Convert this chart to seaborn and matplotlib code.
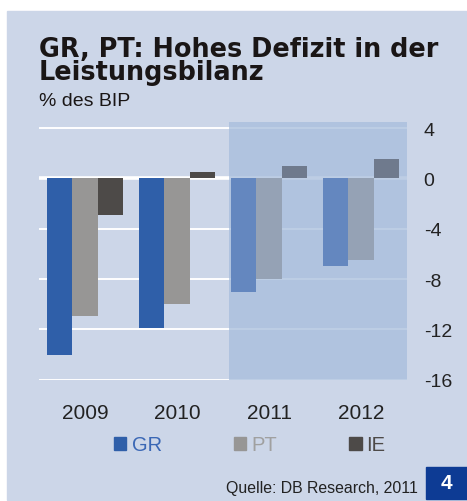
import pandas as pd
import numpy as np
import matplotlib
matplotlib.use("Agg")
import matplotlib.pyplot as plt
import seaborn as sns
from matplotlib.patches import Rectangle

# data (% of GDP)
years = ["2009", "2010", "2011", "2012"]
countries = ["GR", "PT", "IE"]
gr = [-14.0, -11.9, -9.0, -7.0]
pt = [-10.9, -10.0, -8.0, -6.5]
ie = [-2.9, 0.5, 1.0, 1.5]
yticks = [4, 0, -4, -8, -12, -16]

df = pd.DataFrame({
    "year": years * 3,
    "country": ["GR"] * 4 + ["PT"] * 4 + ["IE"] * 4,
    "value": gr + pt + ie,
})

bg = "#ccd6e8"
colors = {"GR": "#2f5fa9", "PT": "#979695", "IE": "#4d4a48"}
fc_colors = {"GR": "#6487bf", "PT": "#95a2b5", "IE": "#6f7a8d"}
text_colors = {"GR": "#3a67b5", "PT": "#a0a0a0", "IE": "#4d4a48"}

sns.set_theme(style="white")
plt.rcParams["font.family"] = ["Liberation Sans", "DejaVu Sans"]

fig = plt.figure(figsize=(4.67, 5.02), dpi=100)
fig.patch.set_facecolor("white")
# panel background
fig.patches.append(Rectangle((7 / 467, 1 / 502), 460 / 467, 489 / 502,
                             transform=fig.transFigure, color=bg, zorder=-5))

ax = fig.add_axes([39 / 467, 1 - 380.7 / 502, 368 / 467, 257.7 / 502])
ax.set_facecolor("none")
ax.set_zorder(2)

sns.barplot(data=df, x="year", y="value", hue="country", hue_order=countries,
            palette=colors, saturation=1, width=0.83, gap=0, ax=ax, zorder=3,
            edgecolor="none", legend=False)

# forecast years lighter
for cont, c in zip(ax.containers, countries):
    for i, bar in enumerate(cont):
        if i >= 2:
            bar.set_facecolor(fc_colors[c])

ax.set_xlim(-0.5, 3.5)
ax.set_ylim(-16, 4.48)
for t in yticks:
    ax.axhline(t, color="white", lw=1.4 if t != 0 else 2.6, zorder=1)
ax.axvspan(1.565, 3.5, ymin=0, ymax=1, color="#a7bddc", alpha=0.75, lw=0, zorder=2)

ax.set_yticks(yticks)
ax.set_yticklabels([str(t) for t in yticks])
ax.yaxis.tick_right()
ax.tick_params(axis="y", length=0, pad=12, labelsize=14, labelcolor="#222222")
for lbl in ax.get_yticklabels():
    lbl.set_horizontalalignment("left")
ax.tick_params(axis="x", length=0, pad=17, labelsize=15, labelcolor="#222222")
ax.set_xlabel("")
ax.set_ylabel("")
for s in ax.spines.values():
    s.set_visible(False)

# legend with squares and coloured text
handles = [Rectangle((0, 0), 1, 1, color=colors[c]) for c in countries]
leg = fig.legend(handles, countries, loc="center", bbox_to_anchor=(250 / 467, 1 - 446 / 502),
                 ncol=3, frameon=False, fontsize=14.5, handlelength=0.6, handleheight=0.6,
                 handletextpad=0.25, columnspacing=3.6, borderpad=0)
for txt, c in zip(leg.get_texts(), countries):
    txt.set_color(text_colors[c])

# titles (va=baseline anchors the last line)
fig.text(39 / 467, 1 - 80.5 / 502, "GR, PT: Hohes Defizit in der\nLeistungsbilanz",
         fontsize=18.4, fontweight="bold", family="DejaVu Sans", color="#1a1616",
         va="baseline", linespacing=0.89)
fig.text(39 / 467, 1 - 106 / 502, "% des BIP", fontsize=14, color="#1a1616", va="baseline")

# source and page box
fig.text(418 / 467, 1 - 492.7 / 502, "Quelle: DB Research, 2011", fontsize=11.4,
         color="#222222", ha="right", va="baseline")
fig.patches.append(Rectangle((426 / 467, 1 - 500 / 502), 41 / 467, 32 / 502,
                             transform=fig.transFigure, color="#0d3b94", zorder=1))
fig.text(446 / 467, 1 - 484 / 502, "4", fontsize=15, fontweight="bold",
         color="white", ha="center", va="center")

fig.savefig("out.png", dpi=100, facecolor=fig.get_facecolor())
